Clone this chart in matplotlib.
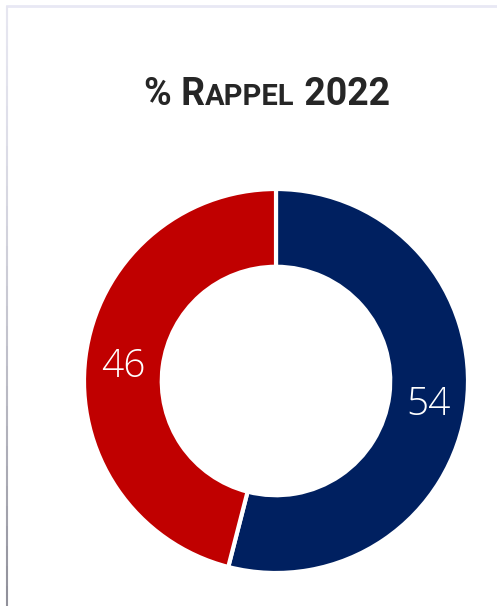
import numpy as np
import matplotlib.pyplot as plt
from matplotlib.lines import Line2D

labels = ['Bleu', 'Rouge']
values = [54, 46]
colors = ['#002060', '#C00000']
title_parts = [('% R', 27), ('APPEL', 21), (' 2022', 27)]

fig = plt.figure(figsize=(4.97, 6.06), dpi=100)
fig.patch.set_facecolor('white')

# bordure du panneau
fig.add_artist(Line2D([7 / 497, 1], [1 - 6 / 606, 1 - 6 / 606], transform=fig.transFigure,
                      color='#e8e8f4', lw=2))
n = 30
for i in range(n):
    y0 = 1 - 6 / 606 - i * (1 - 6 / 606) / n
    y1 = 1 - 6 / 606 - (i + 1) * (1 - 6 / 606) / n
    g = 0.9 - 0.35 * (i / n) ** 1.5
    fig.add_artist(Line2D([7 / 497, 7 / 497], [y0, y1], transform=fig.transFigure,
                          color=(g, g, min(1, g + 0.04)), lw=1.5, solid_capstyle='butt'))

ax = fig.add_axes([84 / 497, 1 - 573 / 606, 384 / 497, 384 / 606])
wedges, _ = ax.pie(values, colors=colors, startangle=90, counterclock=False,
                   radius=1, wedgeprops=dict(width=0.405, edgecolor='white', linewidth=3))
ax.set_xlim(-1, 1)
ax.set_ylim(-1, 1)
ax.set_aspect('equal')

ang = 90.0
for v in values:
    mid = ang - v / 100 * 360 / 2
    ang -= v / 100 * 360
    r = 0.8
    ax.text(r * np.cos(np.radians(mid)), r * np.sin(np.radians(mid)) - 0.025, str(v),
            ha='center', va='center', color='white', fontsize=28,
            family='Open Sans', fontweight='light')

# titre en petites capitales
renderer = fig.canvas.get_renderer()
texts = []
for s, fs in title_parts:
    t = fig.text(0, 0, s, fontsize=fs, fontweight='bold', color='#262626',
                 family='Roboto', ha='left', va='baseline')
    texts.append(t)
widths = [t.get_window_extent(renderer).width for t in texts]
total = sum(widths)
x = 267 - total / 2
for t, w in zip(texts, widths):
    t.set_position((x / 497, 1 - 105 / 606))
    x += w

fig.savefig('out.png', dpi=100)
